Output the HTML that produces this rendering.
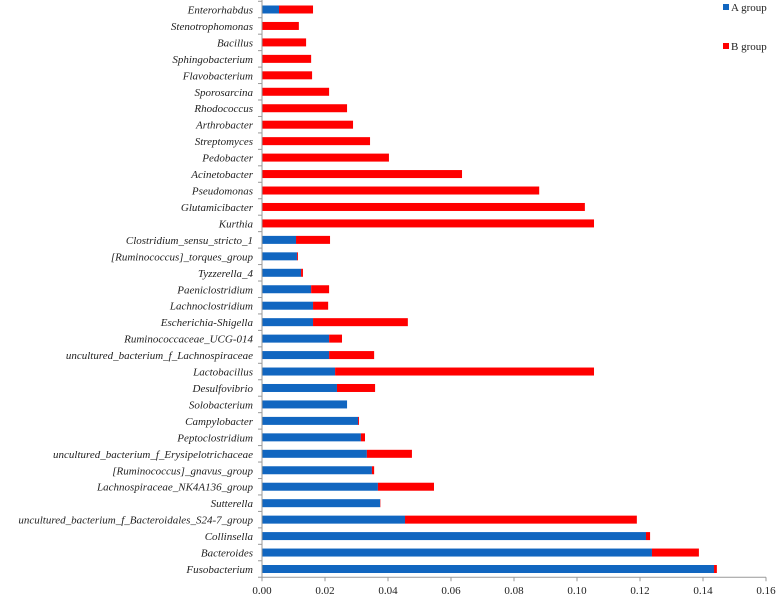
<!DOCTYPE html>
<html><head><meta charset="utf-8"><style>
html,body{margin:0;padding:0;background:#fff;}
svg{display:block;font-family:"Liberation Serif",serif;}
</style></head><body>
<svg id="chart" width="778" height="596" viewBox="0 0 778 596" xmlns="http://www.w3.org/2000/svg">
<g id="bars"></g>
<g id="yaxis"></g>
<g id="xaxis"></g>
<g>
 <g>
  <rect x="723" y="4" width="6" height="6" fill="#1166c0"/>
  <text x="731" y="11" font-size="11" fill="#222">A group</text>
 </g>
 <g>
  <rect x="723" y="43" width="6" height="6" fill="#ff0000"/>
  <text x="731" y="50" font-size="11" fill="#222">B group</text>
 </g>
</g>
</svg>
<script>
const categories = ["Enterorhabdus","Stenotrophomonas","Bacillus","Sphingobacterium","Flavobacterium","Sporosarcina","Rhodococcus","Arthrobacter","Streptomyces","Pedobacter","Acinetobacter","Pseudomonas","Glutamicibacter","Kurthia","Clostridium_sensu_stricto_1","[Ruminococcus]_torques_group","Tyzzerella_4","Paeniclostridium","Lachnoclostridium","Escherichia-Shigella","Ruminococcaceae_UCG-014","uncultured_bacterium_f_Lachnospiraceae","Lactobacillus","Desulfovibrio","Solobacterium","Campylobacter","Peptoclostridium","uncultured_bacterium_f_Erysipelotrichaceae","[Ruminococcus]_gnavus_group","Lachnospiraceae_NK4A136_group","Sutterella","uncultured_bacterium_f_Bacteroidales_S24-7_group","Collinsella","Bacteroides","Fusobacterium"];
const groupA = [0.0054,0,0,0,0,0,0,0,0,0,0,0,0,0,0.0108,0.0111,0.0124,0.0156,0.0162,0.0162,0.0213,0.0213,0.0232,0.0238,0.0270,0.0305,0.0314,0.0333,0.0349,0.0368,0.0375,0.0454,0.1219,0.1238,0.1435];
const groupB = [0.0108,0.0117,0.0140,0.0156,0.0159,0.0213,0.0270,0.0289,0.0343,0.0403,0.0635,0.0880,0.1025,0.1054,0.0108,0.0003,0.0006,0.0057,0.0048,0.0301,0.0041,0.0143,0.0822,0.0121,0,0.0003,0.0013,0.0143,0.0007,0.0178,0.0001,0.0736,0.0013,0.0149,0.0009];
const xTicks = ["0.00","0.02","0.04","0.06","0.08","0.10","0.12","0.14","0.16"];
</script>
<script>
(function(){
const NS="http://www.w3.org/2000/svg";
const x0=262, x1=766, xmax=0.16;
const yTop=9.5, yBot=569;
const n=categories.length;
const step=(yBot-yTop)/(n-1);
const xs=v=>x0+(v/xmax)*(x1-x0);
const ys=i=>yTop+i*step;
const bh=8;
const bars=document.getElementById('bars');
const yax=document.getElementById('yaxis');
const xax=document.getElementById('xaxis');
function mk(t,a,p){const e=document.createElementNS(NS,t);for(const k in a)e.setAttribute(k,a[k]);p.appendChild(e);return e;}
categories.forEach((c,i)=>{
  const y=ys(i);
  if(groupA[i]>0){
    const r=mk('rect',{x:xs(0),y:y-bh/2,width:xs(groupA[i])-xs(0),height:bh,fill:'#1166c0'},bars);
    
    
  }
  if(groupB[i]>0){
    const r=mk('rect',{x:xs(groupA[i]),y:y-bh/2,width:xs(groupA[i]+groupB[i])-xs(groupA[i]),height:bh,fill:'#ff0000'},bars);
    
    
  }
  const t=mk('text',{x:253,y:y+4,'text-anchor':'end','font-size':'11','font-style':'italic',fill:'#222'},yax);
  t.textContent=c;
  
  
  mk('line',{x1:x0-4,x2:x0,y1:y-step/2,y2:y-step/2,stroke:'#999'},yax);
});
mk('line',{x1:x0-4,x2:x0,y1:yBot+step/2,y2:yBot+step/2,stroke:'#999'},yax);
mk('line',{x1:x0,x2:x0,y1:0,y2:yBot+step/2,stroke:'#999'},yax);
const ax=yBot+step/2;
mk('line',{x1:x0,x2:x1,y1:ax,y2:ax,stroke:'#999'},xax);
xTicks.forEach((l,i)=>{
  const v=parseFloat(l);
  const x=xs(v);
  mk('line',{x1:x,x2:x,y1:ax,y2:ax+4,stroke:'#999'},xax);
  const t=mk('text',{x:x,y:594,'text-anchor':'middle','font-size':'11',fill:'#222'},xax);
  t.textContent=l;
  
  
});
})();
</script>
</body></html>
